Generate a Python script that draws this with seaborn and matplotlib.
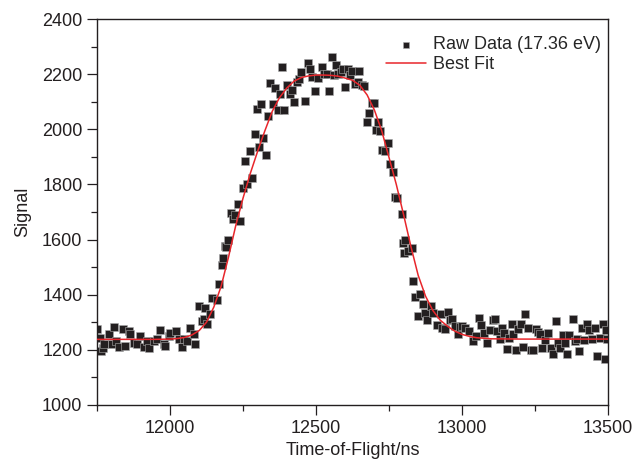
import numpy as np
import pandas as pd
import seaborn as sns
import matplotlib.pyplot as plt
from matplotlib.ticker import MultipleLocator

# datos
tof = [11750, 11760, 11765, 11770, 11774, 11791, 11801, 11808, 11815, 11825, 11839, 11846,
       11860, 11863, 11877, 11887, 11897, 11911, 11921, 11928, 11945, 11955, 11966, 11979,
       11983, 11997, 12000, 12021, 12031, 12041, 12048, 12058, 12068, 12082, 12086, 12099,
       12110, 12116, 12120, 12127, 12137, 12144, 12161, 12168, 12178, 12182, 12188, 12192,
       12199, 12209, 12216, 12223, 12233, 12240, 12250, 12257, 12264, 12274, 12281, 12291,
       12298, 12305, 12312, 12318, 12329, 12336, 12342, 12353, 12360, 12370, 12377, 12384,
       12390, 12401, 12411, 12418, 12425, 12435, 12442, 12449, 12462, 12473, 12479, 12486,
       12497, 12507, 12521, 12527, 12538, 12545, 12555, 12562, 12569, 12575, 12586, 12593,
       12599, 12610, 12616, 12623, 12634, 12644, 12647, 12658, 12664, 12675, 12682, 12692,
       12699, 12705, 12712, 12719, 12726, 12736, 12747, 12753, 12764, 12771, 12777, 12795,
       12798, 12801, 12805, 12815, 12829, 12832, 12839, 12849, 12856, 12866, 12873, 12880,
       12894, 12901, 12914, 12928, 12931, 12942, 12952, 12959, 12966, 12976, 12986, 12993,
       13000, 13010, 13024, 13038, 13048, 13058, 13065, 13075, 13086, 13096, 13106, 13113,
       13120, 13130, 13137, 13144, 13154, 13161, 13171, 13175, 13185, 13192, 13202, 13209,
       13216, 13226, 13236, 13243, 13253, 13260, 13267, 13274, 13284, 13295, 13305, 13312,
       13322, 13329, 13336, 13346, 13353, 13360, 13366, 13380, 13387, 13394, 13401, 13411,
       13418, 13428, 13435, 13445, 13456, 13463, 13473, 13483, 13490, 13493, 13498]
signal = [1276, 1243, 1196, 1207, 1221, 1258, 1221, 1283, 1232, 1210, 1276, 1214,
          1268, 1258, 1225, 1221, 1250, 1210, 1232, 1207, 1232, 1239, 1272, 1221,
          1214, 1250, 1261, 1268, 1239, 1210, 1239, 1232, 1279, 1258, 1221, 1359,
          1305, 1312, 1352, 1294, 1330, 1388, 1381, 1439, 1508, 1533, 1577, 1573,
          1598, 1696, 1675, 1689, 1729, 1667, 1787, 1885, 1802, 1921, 1823, 1983,
          2074, 1936, 2092, 1968, 1907, 2048, 2168, 2092, 2150, 2070, 2128, 2226,
          2070, 2161, 2128, 2143, 2099, 2172, 2182, 2208, 2103, 2241, 2219, 2190,
          2139, 2186, 2226, 2201, 2201, 2139, 2262, 2197, 2233, 2201, 2208, 2219,
          2153, 2219, 2197, 2211, 2164, 2172, 2211, 2161, 2157, 2026, 2059, 2095,
          2095, 1997, 2026, 1994, 1925, 1921, 1950, 1874, 1845, 1754, 1751, 1693,
          1588, 1551, 1598, 1559, 1569, 1450, 1392, 1323, 1403, 1366, 1334, 1308,
          1359, 1334, 1290, 1330, 1279, 1276, 1337, 1308, 1312, 1286, 1258, 1283,
          1286, 1279, 1268, 1232, 1250, 1316, 1290, 1261, 1225, 1272, 1308, 1312,
          1268, 1239, 1279, 1261, 1203, 1243, 1294, 1258, 1199, 1276, 1294, 1210,
          1330, 1279, 1199, 1199, 1276, 1265, 1258, 1207, 1236, 1261, 1207, 1185,
          1305, 1225, 1207, 1254, 1225, 1185, 1254, 1312, 1232, 1239, 1196, 1279,
          1236, 1294, 1272, 1239, 1279, 1178, 1243, 1294, 1167, 1272, 1239]

fit_tof = [11750, 11850, 11950, 12000, 12025, 12050, 12075, 12100, 12125, 12150, 12175,
           12200, 12225, 12250, 12275, 12300, 12325, 12350, 12375, 12400, 12425, 12450,
           12475, 12500, 12525, 12550, 12575, 12600, 12625, 12650, 12675, 12700, 12725,
           12750, 12775, 12800, 12825, 12850, 12875, 12900, 12925, 12950, 12975, 13000,
           13025, 13050, 13100, 13200, 13300, 13400, 13500]
fit_signal = [1238, 1238, 1238, 1239, 1241, 1245, 1254, 1270, 1300, 1355, 1430,
              1535, 1650, 1750, 1840, 1920, 1995, 2065, 2115, 2150, 2175, 2188,
              2194, 2197, 2197, 2196, 2193, 2186, 2178, 2160, 2125, 2070, 1995,
              1898, 1800, 1690, 1575, 1470, 1395, 1343, 1308, 1286, 1268, 1256,
              1249, 1244, 1240, 1239, 1239, 1239, 1239]

raw = pd.DataFrame({'tof': tof, 'signal': signal})
fit = pd.DataFrame({'tof': fit_tof, 'signal': fit_signal})

sns.set_style('ticks')
plt.rcParams['font.family'] = ['Liberation Sans', 'DejaVu Sans']
plt.rcParams['font.size'] = 13

fig = plt.figure(figsize=(6.36, 4.66), dpi=100)
ax = fig.add_axes([0.1525, 0.131, 0.8035, 0.828])

sns.scatterplot(data=raw, x='tof', y='signal', marker='s', s=28, color='#231f20',
                edgecolor='#aaaaaa', linewidth=0.4, ax=ax, label='Raw Data (17.36 eV)', zorder=2)
sns.lineplot(data=fit, x='tof', y='signal', color='#e8262b', linewidth=1.1, ax=ax,
             label='Best Fit', zorder=3)

ax.set_xlim(11750, 13500)
ax.set_ylim(1000, 2400)
ax.xaxis.set_major_locator(MultipleLocator(500))
ax.xaxis.set_minor_locator(MultipleLocator(250))
ax.yaxis.set_major_locator(MultipleLocator(200))
ax.yaxis.set_minor_locator(MultipleLocator(100))
ax.tick_params(which='major', length=7, width=0.9, colors='#231f20', labelsize=13)
ax.tick_params(which='minor', length=4, width=0.9, colors='#231f20')
for s in ax.spines.values():
    s.set_linewidth(1.0)
    s.set_color('#231f20')

ax.set_xlabel('Time-of-Flight/ns', fontsize=13, color='#231f20', labelpad=4)
ax.set_ylabel('Signal', fontsize=13, color='#231f20', labelpad=8)

leg = ax.legend(loc='upper right', bbox_to_anchor=(1.02, 1.0), frameon=False, fontsize=13,
                handlelength=2.2, handletextpad=0.4, borderaxespad=0.55, labelspacing=0.15,
                markerscale=0.85)

plt.savefig('out.png', dpi=100)
